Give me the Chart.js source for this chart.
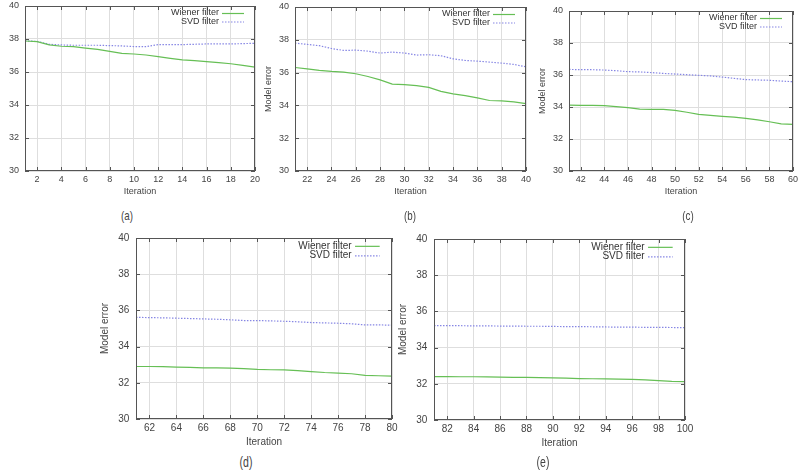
<!DOCTYPE html>
<html>
<head>
<meta charset="utf-8">
<script src="https://cdn.jsdelivr.net/npm/chart.js@4"></script>
<style>
  body { margin: 0; width: 800px; height: 473px; background: #fff; position: relative; overflow: hidden; }
  .panel { position: absolute; }
  .cap { position: absolute; font-family: 'Liberation Sans', Arial, sans-serif; color: #444; transform: translate(-50%, -50%) scaleX(0.75); line-height: 1; }
</style>
</head>
<body>
<div class="panel" id="wa"><canvas id="ca"></canvas></div>
<div class="panel" id="wb"><canvas id="cb"></canvas></div>
<div class="panel" id="wc"><canvas id="cc"></canvas></div>
<div class="panel" id="wd"><canvas id="cd"></canvas></div>
<div class="panel" id="we"><canvas id="ce"></canvas></div>
<div class="cap" style="left:127px;top:215px;font-size:13px">(a)</div>
<div class="cap" style="left:410px;top:215px;font-size:13px">(b)</div>
<div class="cap" style="left:688px;top:215px;font-size:13px">(c)</div>
<div class="cap" style="left:246px;top:462px;font-size:14px">(d)</div>
<div class="cap" style="left:543px;top:462px;font-size:14px">(e)</div>
<script>
// model error per iteration
const wienerA = [37.88, 37.84, 37.64, 37.56, 37.54, 37.45, 37.37, 37.25, 37.13, 37.09, 37.03, 36.93, 36.83, 36.73, 36.69, 36.63, 36.57, 36.50, 36.40, 36.30];
const svdA    = [37.88, 37.86, 37.68, 37.64, 37.62, 37.62, 37.62, 37.60, 37.58, 37.54, 37.54, 37.66, 37.66, 37.66, 37.68, 37.70, 37.70, 37.70, 37.72, 37.74];
const wienerB = [36.31, 36.23, 36.13, 36.07, 36.03, 35.93, 35.76, 35.56, 35.30, 35.27, 35.20, 35.10, 34.86, 34.70, 34.60, 34.46, 34.30, 34.28, 34.22, 34.11];
const svdB    = [37.80, 37.72, 37.64, 37.47, 37.35, 37.37, 37.31, 37.19, 37.25, 37.19, 37.07, 37.09, 37.03, 36.84, 36.74, 36.70, 36.64, 36.58, 36.50, 36.35];
const wienerC = [34.12, 34.10, 34.10, 34.08, 34.02, 33.96, 33.87, 33.85, 33.85, 33.79, 33.67, 33.54, 33.48, 33.42, 33.37, 33.29, 33.19, 33.08, 32.94, 32.92];
const svdC    = [36.35, 36.33, 36.33, 36.31, 36.27, 36.21, 36.19, 36.15, 36.10, 36.06, 36.02, 35.98, 35.94, 35.87, 35.79, 35.71, 35.69, 35.67, 35.62, 35.58];
const wienerD = [32.90, 32.90, 32.89, 32.87, 32.85, 32.83, 32.83, 32.81, 32.78, 32.74, 32.72, 32.71, 32.67, 32.62, 32.57, 32.54, 32.50, 32.41, 32.39, 32.37];
const svdD    = [35.62, 35.60, 35.59, 35.57, 35.55, 35.53, 35.51, 35.48, 35.44, 35.44, 35.42, 35.40, 35.37, 35.33, 35.31, 35.29, 35.26, 35.20, 35.20, 35.18];
const wienerE = [32.40, 32.40, 32.39, 32.39, 32.38, 32.37, 32.36, 32.35, 32.34, 32.33, 32.31, 32.29, 32.28, 32.27, 32.26, 32.24, 32.22, 32.18, 32.13, 32.12];
const svdE    = [35.22, 35.21, 35.21, 35.20, 35.20, 35.19, 35.19, 35.18, 35.18, 35.17, 35.16, 35.16, 35.15, 35.14, 35.13, 35.13, 35.12, 35.12, 35.11, 35.10];

const yTicks = [30, 32, 34, 36, 38, 40];
const xTicksA = [2, 4, 6, 8, 10, 12, 14, 16, 18, 20];
const xTicksB = [22, 24, 26, 28, 30, 32, 34, 36, 38, 40];
const xTicksC = [42, 44, 46, 48, 50, 52, 54, 56, 58, 60];
const xTicksD = [62, 64, 66, 68, 70, 72, 74, 76, 78, 80];
const xTicksE = [82, 84, 86, 88, 90, 92, 94, 96, 98, 100];

const GREEN = '#66bf55';
const BLUE = '#8686e4';
const FONT = "'Liberation Sans', Arial, sans-serif";

const pts = (start, ys) => ys.map((y, i) => ({ x: start + i, y }));

// gnuplot-ish frame with inward ticks + legend inside the top right corner
const framePlugin = {
  id: 'frame',
  afterDraw(chart) {
    const { ctx, chartArea: a, scales } = chart;
    const s = chart.options.plugins.frame.s;
    ctx.save();
    ctx.strokeStyle = '#555';
    ctx.lineWidth = 1;
    ctx.strokeRect(a.left + 0.5, a.top + 0.5, a.right - a.left - 1, a.bottom - a.top - 1);
    ctx.beginPath();
    scales.x.ticks.forEach(t => {
      const px = Math.round(scales.x.getPixelForValue(t.value)) + 0.5;
      ctx.moveTo(px, a.bottom); ctx.lineTo(px, a.bottom - 4);
      ctx.moveTo(px, a.top); ctx.lineTo(px, a.top + 4);
    });
    scales.y.ticks.forEach(t => {
      const py = Math.round(scales.y.getPixelForValue(t.value)) + 0.5;
      ctx.moveTo(a.left, py); ctx.lineTo(a.left + 4, py);
      ctx.moveTo(a.right, py); ctx.lineTo(a.right - 4, py);
    });
    ctx.stroke();

    // legend
    ctx.font = Math.round(9 * s) + 'px ' + FONT;
    ctx.textAlign = 'right';
    ctx.textBaseline = 'middle';
    chart.data.datasets.forEach((ds, i) => {
      const y = a.top + 7 * s + i * 8.5 * s;
      ctx.fillStyle = '#333';
      ctx.fillText(ds.label, a.right - 36 * s, y);
      ctx.strokeStyle = ds.borderColor;
      ctx.lineWidth = 1.2;
      ctx.setLineDash(ds.borderDash || []);
      ctx.beginPath();
      ctx.moveTo(a.right - 33 * s, y + 0.5);
      ctx.lineTo(a.right - 11 * s, y + 0.5);
      ctx.stroke();
      ctx.setLineDash([]);
    });
    ctx.restore();
  }
};

function panel(id, p) {
  const s = p.s;
  const yw = p.yw, padTop = 6, padR = p.padR, xh = p.xh;
  const w = p.r - p.l + yw + padR;
  const h = p.b - p.t + padTop + xh;
  const wrap = document.getElementById('w' + id);
  wrap.style.left = (p.l - yw) + 'px';
  wrap.style.top = (p.t - padTop) + 'px';
  wrap.style.width = w + 'px';
  wrap.style.height = h + 'px';
  const fs = Math.round(9 * s);
  new Chart(document.getElementById('c' + id), {
    type: 'line',
    data: {
      datasets: [
        { label: 'Wiener filter', data: pts(p.start, p.wiener), borderColor: GREEN, borderWidth: 1.2, pointRadius: 0, tension: 0 },
        { label: 'SVD filter', data: pts(p.start, p.svd), borderColor: BLUE, borderWidth: 1.2, borderDash: [1.5, 1.5], pointRadius: 0, tension: 0 }
      ]
    },
    options: {
      responsive: true,
      maintainAspectRatio: false,
      animation: false,
      layout: { padding: { top: padTop, right: padR, left: 0, bottom: 0 } },
      plugins: { legend: { display: false }, tooltip: { enabled: false }, frame: { s } },
      scales: {
        x: {
          type: 'linear',
          min: p.start,
          max: p.start + 19,
          afterBuildTicks: sc => { sc.ticks = p.xTicks.map(v => ({ value: v })); },
          afterFit: sc => { sc.height = xh; sc.paddingLeft = 0; sc.paddingRight = 0; },
          grid: { color: '#dedede', drawTicks: false },
          border: { display: false },
          ticks: { padding: 3 * s, color: '#444', font: { family: FONT, size: fs }, maxRotation: 0, autoSkip: false },
          title: { display: true, text: 'Iteration', color: '#444', font: { family: FONT, size: fs }, padding: { top: 0, bottom: p.xtp } }
        },
        y: {
          min: 30,
          max: 40,
          afterBuildTicks: sc => { sc.ticks = yTicks.map(v => ({ value: v })); },
          afterFit: sc => { sc.width = yw; sc.paddingTop = 0; sc.paddingBottom = 0; },
          grid: { color: '#dedede', drawTicks: false },
          border: { display: false },
          ticks: { padding: 6 * s, color: '#444', font: { family: FONT, size: fs } },
          title: { display: p.yTitle, text: 'Model error', color: '#444', font: { family: FONT, size: fs }, padding: { top: p.ytp, bottom: 0 } }
        }
      }
    },
    plugins: [framePlugin]
  });
}

panel('a', { start: 1, wiener: wienerA, svd: svdA, xTicks: xTicksA, l: 25, r: 255, t: 6, b: 171, yw: 25, padR: 10, xh: 30, xtp: 4, yTitle: false, ytp: 0, s: 1 });
panel('b', { start: 21, wiener: wienerB, svd: svdB, xTicks: xTicksB, l: 295, r: 526, t: 7, b: 171, yw: 40, padR: 10, xh: 30, xtp: 4, yTitle: true, ytp: 8, s: 1 });
panel('c', { start: 41, wiener: wienerC, svd: svdC, xTicks: xTicksC, l: 569, r: 793, t: 11, b: 171, yw: 40, padR: 7, xh: 30, xtp: 4, yTitle: true, ytp: 8, s: 1 });
panel('d', { start: 61, wiener: wienerD, svd: svdD, xTicks: xTicksD, l: 136, r: 392, t: 238, b: 419, yw: 44, padR: 10, xh: 32, xtp: 3, yTitle: true, ytp: 7, s: 1.12 });
panel('e', { start: 81, wiener: wienerE, svd: svdE, xTicks: xTicksE, l: 434, r: 685, t: 239, b: 420, yw: 44, padR: 10, xh: 32, xtp: 3, yTitle: true, ytp: 7, s: 1.12 });
</script>
</body>
</html>
